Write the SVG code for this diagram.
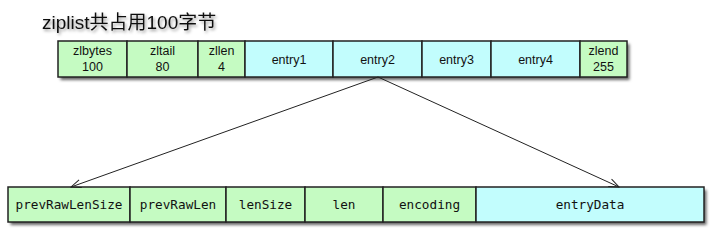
<svg xmlns="http://www.w3.org/2000/svg" width="717" height="238" viewBox="0 0 717 238">
<defs>
<filter id="sh" x="-10%" y="-20%" width="120%" height="160%">
<feDropShadow dx="2.5" dy="3" stdDeviation="1.8" flood-color="#000" flood-opacity="0.6"/>
</filter>
<filter id="tsh" x="-10%" y="-30%" width="120%" height="170%">
<feDropShadow dx="1.5" dy="2" stdDeviation="1.5" flood-color="#000" flood-opacity="0.4"/>
</filter>
<marker id="ah" markerWidth="12" markerHeight="10" refX="11" refY="5" orient="auto" markerUnits="userSpaceOnUse">
<path d="M1,1 L11,5 L1,9" fill="none" stroke="#222" stroke-width="1"/>
</marker>
</defs>
<style>
.g{fill:#c5fbc2;stroke:#222;stroke-width:1.5}
.c{fill:#c2fdfd;stroke:#222;stroke-width:1.5}
.t{font-family:"Liberation Sans",Arial,sans-serif;font-size:12.5px;fill:#111;text-anchor:middle}
.m{font-family:"DejaVu Sans Mono","Liberation Mono",monospace;font-size:12.7px;fill:#111;text-anchor:middle}
.conn{fill:none;stroke:#222;stroke-width:1}
</style>
<text x="42" y="29" filter="url(#tsh)" style="font-family:'Liberation Sans','Noto Sans CJK SC',sans-serif;font-size:19px;fill:#111">ziplist共占用100字节</text>
<g id="top" filter="url(#sh)">
<rect x="58" y="41" width="569" height="36" fill="#fff"/>
</g>
<g id="zlbytes"><rect class="g" x="58" y="41" width="69" height="36"/><text class="t" x="92.5" y="55">zlbytes</text><text class="t" x="92.5" y="71">100</text></g>
<g id="zltail"><rect class="g" x="127" y="41" width="71" height="36"/><text class="t" x="162.5" y="55">zltail</text><text class="t" x="162.5" y="71">80</text></g>
<g id="zllen"><rect class="g" x="198" y="41" width="47" height="36"/><text class="t" x="221.5" y="55">zllen</text><text class="t" x="221.5" y="71">4</text></g>
<g id="entry1"><rect class="c" x="245" y="41" width="88" height="36"/><text class="t" x="289" y="64">entry1</text></g>
<g id="entry2"><rect class="c" x="333" y="41" width="89" height="36"/><text class="t" x="377.5" y="64">entry2</text></g>
<g id="entry3"><rect class="c" x="422" y="41" width="69" height="36"/><text class="t" x="456.5" y="64">entry3</text></g>
<g id="entry4"><rect class="c" x="491" y="41" width="89" height="36"/><text class="t" x="535.5" y="64">entry4</text></g>
<g id="zlend"><rect class="g" x="580" y="41" width="47" height="36"/><text class="t" x="603.5" y="55">zlend</text><text class="t" x="603.5" y="71">255</text></g>
<g id="bottom" filter="url(#sh)">
<rect x="8" y="187" width="696" height="35" fill="#fff"/>
</g>
<g id="prevRawLenSize"><rect class="g" x="8" y="187" width="122" height="35"/><text class="m" x="69" y="209">prevRawLenSize</text></g>
<g id="prevRawLen"><rect class="g" x="130" y="187" width="96" height="35"/><text class="m" x="178" y="209">prevRawLen</text></g>
<g id="lenSize"><rect class="g" x="226" y="187" width="79" height="35"/><text class="m" x="265.5" y="209">lenSize</text></g>
<g id="len"><rect class="g" x="305" y="187" width="78" height="35"/><text class="m" x="344" y="209">len</text></g>
<g id="encoding"><rect class="g" x="383" y="187" width="93" height="35"/><text class="m" x="429.5" y="209">encoding</text></g>
<g id="entryData"><rect class="c" x="476" y="187" width="228" height="35"/><text class="m" x="590" y="209">entryData</text></g>
<g id="connectors">
<line class="conn" x1="378" y1="77" x2="71" y2="187" marker-end="url(#ah)"/>
<line class="conn" x1="378" y1="77" x2="619" y2="187" marker-end="url(#ah)"/>
</g>
</svg>
